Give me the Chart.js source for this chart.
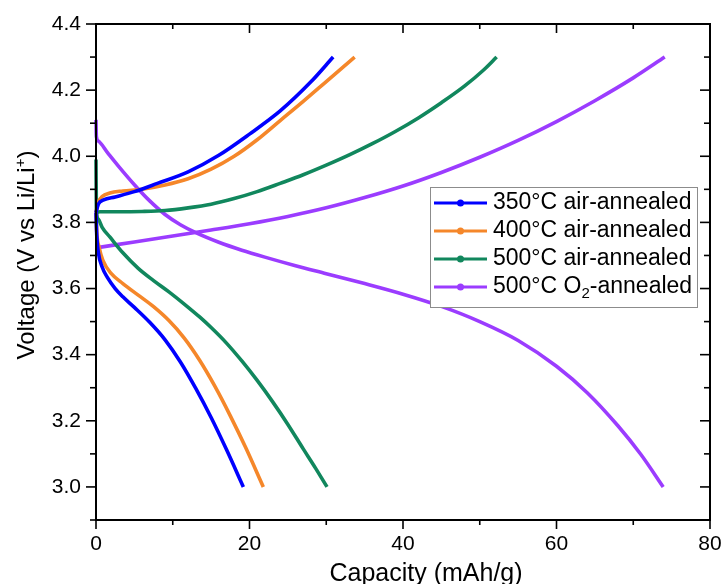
<!DOCTYPE html>
<html><head><meta charset="utf-8">
<script src="https://cdn.jsdelivr.net/npm/chart.js@4/dist/chart.umd.min.js"></script>
<style>html,body{margin:0;padding:0;background:#fff}#wrap{width:722px;height:584px}</style>
</head><body><div id="wrap"><canvas id="c" width="722" height="584"></canvas></div>
<script>
// ---- data ----
const seriesLabels = ['350°C air-annealed','400°C air-annealed','500°C air-annealed','500°C O2-annealed'];
const seriesColors = ['#0000ff','#f5872a','#11875d','#9b3cff'];

const xTicksMajor = [0,20,40,60,80];
const xTicksMinor = [10,30,50,70];
const yTicksMajor = [3.0,3.2,3.4,3.6,3.8,4.0,4.2,4.4];
const yTicksMinor = [2.9,3.1,3.3,3.5,3.7,3.9,4.1,4.3];

// 350°C air-annealed
const cap350Charge = [0,0.3,1,2.5,5,8,12,16,20,24,28,30.9];
const v350Charge   = [3.83,3.855,3.868,3.877,3.893,3.918,3.953,4.003,4.067,4.137,4.225,4.30];
const cap350Dis    = [0,0.1,0.3,0.8,1.5,2.5,3.5,5,7,9,11,13,15,17,19.2];
const v350Dis      = [3.83,3.76,3.71,3.665,3.633,3.60,3.575,3.543,3.498,3.445,3.378,3.298,3.21,3.113,3.0];

// 400°C air-annealed
const cap400Charge = [0,0.3,0.8,1.8,3.5,6,9,12,15,18,21,24,27,30,33.7];
const v400Charge   = [3.83,3.86,3.878,3.889,3.895,3.90,3.913,3.932,3.961,4.0,4.05,4.108,4.166,4.226,4.30];
const cap400Dis    = [0,0.1,0.4,0.9,2,3.5,5.5,7.5,9.5,11.5,13.5,15.5,17.5,19.5,21.8];
const v400Dis      = [3.83,3.77,3.725,3.685,3.645,3.615,3.58,3.545,3.503,3.45,3.383,3.304,3.215,3.119,3.0];

// 500°C air-annealed
const cap500Charge = [0,0.5,3,6,9,12,15,18,21,24,27,30,33,36,39,42,45,48,50.5,52.2];
const v500Charge   = [3.83,3.832,3.832,3.833,3.836,3.844,3.855,3.872,3.893,3.918,3.944,3.973,4.004,4.038,4.075,4.116,4.162,4.212,4.261,4.30];
const cap500Dis    = [0,0.05,0.3,0.8,1.8,3.5,5.5,7.5,9.5,11.5,13.5,15,17,19,21,23,25,27,28.6,30.1];
const v500Dis      = [3.99,3.84,3.81,3.785,3.756,3.708,3.661,3.624,3.59,3.553,3.514,3.482,3.435,3.381,3.322,3.258,3.189,3.115,3.057,3.0];

// 500°C O2-annealed
const capO2Charge = [0,5,10,15,20,25,30,35,40,45,50,55,60,65,70,74.1];
const vO2Charge   = [3.723,3.741,3.759,3.777,3.796,3.818,3.844,3.875,3.91,3.951,3.997,4.048,4.105,4.168,4.237,4.30];
const capO2Dis    = [0,0.05,0.3,1.5,3,5,7,9,11,13,16,19,22,26,30,35,40,45,50,55,60,64,68,71,73.9];
const vO2Dis      = [4.11,4.06,4.046,4.011,3.968,3.914,3.865,3.824,3.793,3.769,3.74,3.716,3.695,3.669,3.645,3.615,3.583,3.546,3.50,3.443,3.365,3.285,3.185,3.098,3.0];

// ---- build datasets ----
const pairs = (xs, ys) => xs.map((x, i) => ({x, y: ys[i]}));
const curves = [
  [cap350Charge, v350Charge, 0], [cap350Dis, v350Dis, 0],
  [cap400Charge, v400Charge, 1], [cap400Dis, v400Dis, 1],
  [cap500Charge, v500Charge, 2], [cap500Dis, v500Dis, 2],
  [capO2Charge, vO2Charge, 3], [capO2Dis, vO2Dis, 3]
];
const datasets = curves.map(([xs, ys, s]) => ({
  label: seriesLabels[s],
  data: pairs(xs, ys),
  borderColor: seriesColors[s],
  backgroundColor: seriesColors[s],
  borderWidth: 3.6,
  pointRadius: 0,
  cubicInterpolationMode: 'monotone',
  fill: false,
  clip: 8
}));

const FONT = '"Liberation Sans", Arial, sans-serif';

const framePlugin = {
  id: 'frame',
  afterDatasetsDraw(chart) {
    const {ctx, chartArea: a, scales: {x, y}} = chart;
    ctx.save();
    ctx.strokeStyle = '#000';
    ctx.lineWidth = 2;
    ctx.lineCap = 'square';
    ctx.strokeRect(a.left, a.top, a.right - a.left, a.bottom - a.top);
    ctx.lineWidth = 1.6;
    ctx.lineCap = 'butt';
    const tick = (x1, y1, x2, y2) => { ctx.beginPath(); ctx.moveTo(x1, y1); ctx.lineTo(x2, y2); ctx.stroke(); };
    xTicksMajor.forEach(v => { const p = x.getPixelForValue(v); tick(p, a.bottom, p, a.bottom + 9); tick(p, a.top, p, a.top + 9); });
    xTicksMinor.forEach(v => { const p = x.getPixelForValue(v); tick(p, a.bottom, p, a.bottom + 5); tick(p, a.top, p, a.top + 5); });
    yTicksMajor.forEach(v => { const p = y.getPixelForValue(v); tick(a.left - 10, p, a.left, p); tick(a.right - 10, p, a.right, p); });
    yTicksMinor.forEach(v => { const p = y.getPixelForValue(v); tick(a.left - 6, p, a.left, p); tick(a.right - 6, p, a.right, p); });

    // axis titles
    ctx.fillStyle = '#000';
    ctx.font = '25px ' + FONT;
    ctx.textBaseline = 'alphabetic';
    ctx.textAlign = 'center';
    ctx.fillText('Capacity (mAh/g)', 426, 581);

    // y title with superscript
    ctx.save();
    ctx.translate(34, 255);
    ctx.rotate(-Math.PI / 2);
    ctx.textAlign = 'left';
    ctx.textBaseline = 'alphabetic';
    const t1 = 'Voltage (V vs Li/Li', sup = '+', t2 = ')';
    ctx.font = '24px ' + FONT;
    const w1 = ctx.measureText(t1).width, w3 = ctx.measureText(t2).width;
    ctx.font = '15px ' + FONT;
    const w2 = ctx.measureText(sup).width;
    let sx = -(w1 + w2 + w3) / 2;
    ctx.font = '24px ' + FONT;
    ctx.fillText(t1, sx, 0); sx += w1;
    ctx.font = '15px ' + FONT;
    ctx.fillText(sup, sx, -9); sx += w2;
    ctx.font = '24px ' + FONT;
    ctx.fillText(t2, sx, 0);
    ctx.restore();

    // legend
    const bx = 430.5, by = 187.5, bw = 267, bh = 120;
    ctx.fillStyle = '#fff';
    ctx.fillRect(bx, by, bw, bh);
    ctx.strokeStyle = '#8c8c8c';
    ctx.lineWidth = 1;
    ctx.strokeRect(bx, by, bw, bh);
    const rows = [203, 231, 259, 287];
    seriesLabels.forEach((lab, i) => {
      const yy = rows[i];
      ctx.strokeStyle = seriesColors[i];
      ctx.lineWidth = 3;
      tick(434, yy, 487, yy);
      ctx.fillStyle = seriesColors[i];
      ctx.beginPath(); ctx.arc(460.5, yy, 3.5, 0, Math.PI * 2); ctx.fill();
      ctx.fillStyle = '#000';
      ctx.textAlign = 'left';
      ctx.textBaseline = 'middle';
      ctx.font = '23px ' + FONT;
      const m = lab.match(/^(.*O)2(-.*)$/);
      if (m) {
        let tx = 493;
        ctx.fillText(m[1], tx, yy); tx += ctx.measureText(m[1]).width;
        ctx.font = '15px ' + FONT;
        ctx.fillText('2', tx, yy + 7); tx += ctx.measureText('2').width;
        ctx.font = '23px ' + FONT;
        ctx.fillText(m[2], tx, yy);
      } else {
        ctx.fillText(lab, 493, yy);
      }
    });
    ctx.restore();
  }
};

new Chart(document.getElementById('c'), {
  type: 'line',
  data: { datasets },
  options: {
    responsive: false,
    devicePixelRatio: 1,
    animation: false,
    layout: { padding: { left: 0, top: 24, right: 12, bottom: 0 } },
    plugins: { legend: { display: false }, tooltip: { enabled: false } },
    scales: {
      x: {
        type: 'linear', min: 0, max: 80,
        afterBuildTicks: s => { s.ticks = xTicksMajor.map(v => ({value: v})); },
        afterFit: s => { s.height = 64; s.paddingLeft = 0; s.paddingRight = 0; },
        ticks: { color: '#000', font: { family: FONT, size: 21 }, padding: 12, maxRotation: 0 },
        grid: { display: false, drawTicks: false, tickLength: 0 },
        border: { display: false }
      },
      y: {
        type: 'linear', min: 2.9, max: 4.4,
        afterBuildTicks: s => { s.ticks = yTicksMajor.map(v => ({value: v})); },
        afterFit: s => { s.width = 96; s.paddingTop = 0; s.paddingBottom = 0; },
        ticks: { color: '#000', font: { family: FONT, size: 21 }, padding: 15, callback: v => v.toFixed(1) },
        grid: { display: false, drawTicks: false, tickLength: 0 },
        border: { display: false }
      }
    }
  },
  plugins: [framePlugin]
});
</script>
</body></html>
